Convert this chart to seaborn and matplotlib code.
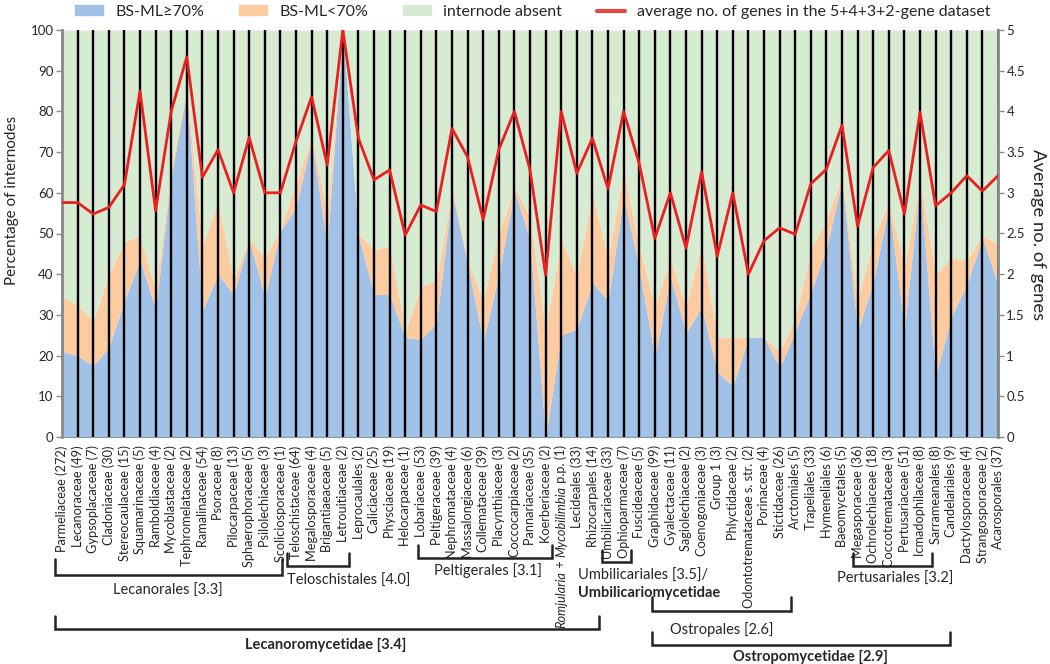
import numpy as np
import seaborn as sns
import matplotlib.pyplot as plt
from matplotlib.patches import Patch
from matplotlib.lines import Line2D
from matplotlib.ticker import FuncFormatter
from matplotlib.transforms import blended_transform_factory

taxa = ['Parmeliaceae (272)', 'Lecanoraceae (49)', 'Gypsoplacaceae (7)', 'Cladoniaceae (30)',
        'Stereocaulaceae (15)', 'Squamarinaceae (5)', 'Ramboldiaceae (4)', 'Mycoblastaceae (2)',
        'Tephromelataceae (2)', 'Ramalinaceae (54)', 'Psoraceae (8)', 'Pilocarpaceae (13)',
        'Sphaerophoraceae (5)', 'Psilolechiaceae (3)', 'Scoliciosporaceae (1)', 'Teloschistaceae (64)',
        'Megalosporaceae (4)', 'Brigantiaeaceae (5)', 'Letrouitiaceae (2)', 'Leprocaulales (2)',
        'Caliciaceae (25)', 'Physciaceae (19)', 'Helocarpaceae (1)', 'Lobariaceae (53)',
        'Peltigeraceae (39)', 'Nephromataceae (4)', 'Massalongiaceae (6)', 'Collemataceae (39)',
        'Placynthiaceae (3)', 'Coccocarpiaceae (2)', 'Pannariaceae (35)', 'Koerberiaceae (2)',
        'Romjularia + Mycobilimbia p.p. (1)', 'Lecideales (33)',
        'Rhizocarpales (14)', 'Umbilicariaceae (33)', 'Ophioparmaceae (7)', 'Fuscideaceae (5)',
        'Graphidaceae (99)', 'Gyalectaceae (11)', 'Sagiolechiaceae (2)', 'Coenogoniaceae (3)',
        'Group 1 (3)', 'Phlyctidaceae (2)', 'Odontotremataceae s. str. (2)', 'Porinaceae (4)',
        'Stictidaceae (26)', 'Arctomiales (5)', 'Trapeliales (33)', 'Hymeneliales (6)',
        'Baeomycetales (5)', 'Megasporaceae (36)', 'Ochrolechiaceae (18)', 'Coccotremataceae (3)',
        'Pertusariaceae (51)', 'Icmadophilaceae (8)', 'Sarrameanales (8)', 'Candelariales (9)',
        'Dactylosporaceae (4)', 'Strangosporaceae (2)', 'Acarosporales (37)']
# pieces of the one label with italic genus names
mixed_label = [('Romjularia', 'italic'), (' + ', 'normal'), ('Mycobilimbia', 'italic'),
               (' p.p. (1)', 'normal')]

# % internodes with BS-ML >= 70
bs_high = [21, 20, 17.5, 22, 33.5, 43.5, 31.5, 64, 85, 31, 40, 35, 48.5, 34.5, 50.5, 56.5,
           73, 47, 100, 49.5, 35, 35, 24.5, 24, 28, 60, 42.5, 23.5, 40, 60.5, 48.5, 0,
           25, 26.5, 38, 33.5, 59, 41.5, 19.5, 39.5, 25.5, 32, 16, 12.5, 24.5, 24.5,
           17, 26, 35.5, 46.5, 63, 26, 38, 57, 26.5, 62.5, 15, 29.5, 37.5, 49, 37.5]
# % internodes with BS-ML < 70
bs_low = [13.5, 12.5, 11, 18, 14.5, 6, 4.5, 2, 1, 16, 18, 3.5, 0.5, 9.5, 0.5, 6,
          1, 8, 0, 0.5, 11, 12, 1.5, 13, 10.5, 1.5, 1, 10, 10, 1, 5.5, 26.5,
          23.5, 13, 22, 10.5, 6.5, 5.5, 12.5, 4.5, 6.5, 15.5, 8.5, 12, 0, 0,
          4, 3, 10.5, 7, 1, 7.5, 10.5, 1, 15.5, 1, 25, 14.5, 6, 0.5, 10]
# average number of genes (5+4+3+2-gene dataset)
avg_genes = [2.88, 2.88, 2.74, 2.82, 3.10, 4.25, 2.78, 4.0, 4.67, 3.19, 3.53, 3.0, 3.68, 3.0,
             3.0, 3.63, 4.18, 3.34, 5.0, 3.67, 3.16, 3.28, 2.48, 2.85, 2.77, 3.79, 3.44, 2.67,
             3.53, 4.0, 3.28, 1.99, 4.0, 3.24, 3.67, 3.05, 4.0, 3.36, 2.44, 3.0, 2.32, 3.26,
             2.22, 3.0, 2.0, 2.41, 2.57, 2.49, 3.11, 3.29, 3.83, 2.59, 3.31, 3.52, 2.74, 3.99,
             2.84, 3.0, 3.21, 3.02, 3.21]

c_high = '#a1c1e7'
c_low = '#fdcba0'
c_absent = '#d7ebd3'
c_red = '#ea1f1f'

sns.set_theme(style='white')
plt.rcParams['font.family'] = ['Lato', 'DejaVu Sans']

x = np.arange(len(taxa))
high = np.array(bs_high)
low = np.array(bs_low)
absent = 100 - high - low

W, H = 1050, 664
tick_fs = 9.2
fig = plt.figure(figsize=(W / 100, H / 100), dpi=100)
ax = fig.add_axes([62 / W, 1 - 437 / H, 936 / W, 407 / H])
ax.stackplot(x, high, low, absent, colors=[c_high, c_low, c_absent], lw=0, zorder=1)
ax.vlines(x[1:-1], 0, 100, color='black', lw=1.7, zorder=2)
ax.set_xlim(0, len(taxa) - 1)
ax.set_ylim(0, 100)
ax.set_yticks(range(0, 101, 10))
ax.set_xticks(x)
ax.set_xticklabels(taxa, rotation=90, fontsize=tick_fs)
ax.tick_params(axis='x', length=4, width=1.5, color='black', pad=2)
ax.tick_params(axis='y', length=4, width=1, color='#888888', labelsize=9.5, pad=2, left=True)
ax.spines['top'].set_visible(False)
ax.spines['left'].set_color('#888888')
ax.spines['left'].set_linewidth(2)
ax.spines['bottom'].set_color('#8899aa')
ax.spines['bottom'].set_linewidth(0.8)

ax2 = ax.twinx()
sns.lineplot(x=x, y=avg_genes, ax=ax2, color=c_red, lw=2, zorder=3)
ax2.set_ylim(0, 5)
ax2.set_yticks(np.arange(0, 5.01, 0.5))
ax2.yaxis.set_major_formatter(FuncFormatter(lambda v, p: f'{v:g}'))
ax2.tick_params(axis='y', length=4, width=1, color='#888888', labelsize=9.5, pad=2, right=True)
for s in ['top', 'left', 'bottom']:
    ax2.spines[s].set_visible(False)
ax2.spines['right'].set_color('#888888')
ax2.spines['right'].set_linewidth(2)

fig.text(12 / W, 1 - 200 / H, 'Percentage of internodes', rotation=90,
         ha='center', va='center', fontsize=11)
fig.text(1038 / W, 1 - 235 / H, 'Average no. of genes', rotation=270,
         ha='center', va='center', fontsize=13.3)

handles = [Patch(color=c_high), Patch(color=c_low), Patch(color=c_absent),
           Line2D([], [], color='#e04a44', lw=3)]
labels = ['BS-ML\u226570%', 'BS-ML<70%', 'internode absent',
          'average no. of genes in the 5+4+3+2-gene dataset']
fig.legend(handles, labels, loc='center', bbox_to_anchor=(533 / W, 1 - 12 / H), ncol=4,
           frameon=False, fontsize=11.5, handlelength=1.75, handleheight=0.6,
           columnspacing=2.2, handletextpad=0.75)

# draw the mixed italic/regular label piece by piece (end of the text sits at the axis)
fig.canvas.draw()
renderer = fig.canvas.get_renderer()
idx = taxa.index('Romjularia + Mycobilimbia p.p. (1)')
lab = ax.get_xticklabels()[idx]
bb = lab.get_window_extent(renderer)
lab.set_visible(False)
px = (bb.x0 + bb.x1) / 2
py = bb.y1
for txt, style in reversed(mixed_label):
    t = fig.text(px / W, py / H, txt, rotation=90, ha='center', va='top',
                 fontsize=tick_fs, style=style)
    py -= t.get_window_extent(renderer).height

# group brackets (x in category units, y in pixels from top)
tr = blended_transform_factory(ax.transData, fig.transFigure)


def yf(py):
    return 1 - py / H


def bracket(x0, x1, y_line, y_tip):
    ax.plot([x0, x0, x1, x1], [yf(y_tip), yf(y_line), yf(y_line), yf(y_tip)],
            transform=tr, color='#222222', lw=1.8, clip_on=False,
            solid_joinstyle='miter')


brackets = [(-0.43, 14.1, 575, 559), (14.44, 18.4, 566, 553), (22.8, 31.4, 558, 545),
            (34.6, 36.5, 562, 550), (50.7, 55.8, 566, 553), (-0.43, 34.4, 629, 616),
            (37.8, 46.7, 611, 597), (37.8, 56.9, 645, 632)]
for b in brackets:
    bracket(*b)

ax.text(6.8, yf(591), 'Lecanorales [3.3]', transform=tr, ha='center', va='center', fontsize=10.5)
ax.text(14.44, yf(581), 'Teloschistales [4.0]', transform=tr, ha='left', va='center', fontsize=10.5)
ax.text(27.3, yf(571), 'Peltigerales [3.1]', transform=tr, ha='center', va='center', fontsize=10.5)
ax.text(33.1, yf(576), 'Umbilicariales [3.5]/', transform=tr, ha='left', va='center', fontsize=10.5)
ax.text(33.1, yf(593), 'Umbilicariomycetidae', transform=tr, ha='left', va='center',
        fontsize=10.5, fontweight='bold')
ax.text(53.4, yf(579), 'Pertusariales [3.2]', transform=tr, ha='center', va='center', fontsize=10.5)
ax.text(16.9, yf(645), 'Lecanoromycetidae [3.4]', transform=tr, ha='center', va='center',
        fontsize=10.5, fontweight='bold')
ax.text(42.3, yf(630), 'Ostropales [2.6]', transform=tr, ha='center', va='center', fontsize=10.5)
ax.text(48.0, yf(657), 'Ostropomycetidae [2.9]', transform=tr, ha='center', va='center',
        fontsize=10.5, fontweight='bold')

fig.savefig('out.png', dpi=100)
